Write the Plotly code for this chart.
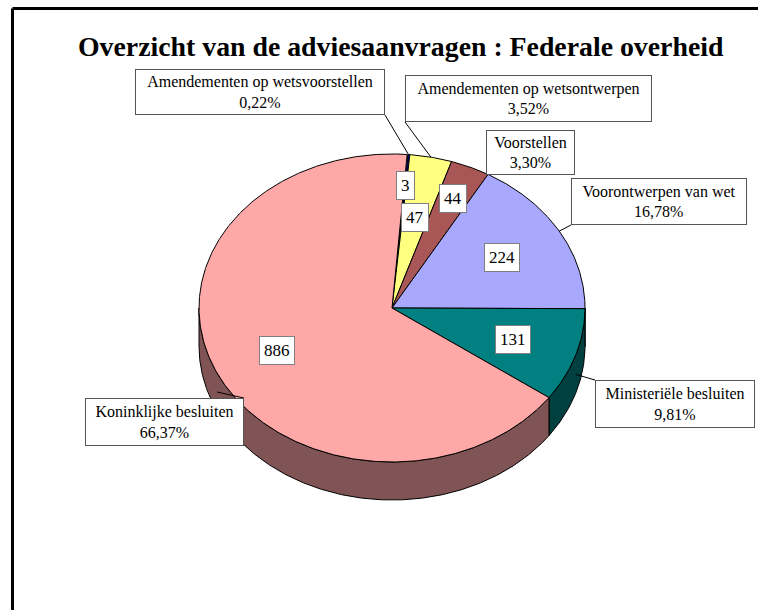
import math
import plotly.graph_objects as go

# ---- data ----
categories = [
    "Amendementen op wetsvoorstellen",
    "Amendementen op wetsontwerpen",
    "Voorstellen",
    "Voorontwerpen van wet",
    "Ministeriële besluiten",
    "Koninklijke besluiten",
]
values = [3, 47, 44, 224, 131, 886]
title_text = "Overzicht van de adviesaanvragen : Federale overheid"

# ---- style ----
top_colors = ["#000080", "#FFFF80", "#A85656", "#A8A8FF", "#008080", "#FFA8A8"]
side_colors = ["#000040", "#80803F", "#542B2B", "#545480", "#004040", "#805454"]
CX, CY, RA, RB, DEPTH = 392, 308, 193, 154, 38
ROTATION = 4.5
label_frac = [0.8, 0.6, 0.78, 0.66, 0.66, 0.66]
# callout boxes: (center x, center y, width, height)
boxes = [
    (260, 92, 250, 46),
    (528.5, 98.5, 247, 47),
    (530.5, 152.5, 89, 45),
    (659, 201.5, 176, 47),
    (675, 404, 160, 48),
    (164.5, 422, 159, 48),
]
show_leader = [True, True, False, True, True, True]
SERIF = "Liberation Serif, Times New Roman, serif"

total = sum(values)


def pt(theta_deg, frac=1.0, dy=0.0):
    t = math.radians(theta_deg)
    return CX + RA * frac * math.sin(t), CY - RB * frac * math.cos(t) + dy


fig = go.Figure()

bounds = []
acc = 0
for v in values:
    a0 = ROTATION + 360 * acc / total
    acc += v
    a1 = ROTATION + 360 * acc / total
    bounds.append((a0, a1))

# side walls (front half: 90..270 deg)
for (a0, a1), col in zip(bounds, side_colors):
    s0, s1 = max(a0, 90), min(a1, 270)
    if s1 <= s0:
        continue
    n = max(4, int((s1 - s0) * 2))
    xs, ys = [], []
    for i in range(n + 1):
        x, y = pt(s0 + (s1 - s0) * i / n)
        xs.append(x); ys.append(y)
    for i in range(n, -1, -1):
        x, y = pt(s0 + (s1 - s0) * i / n, dy=DEPTH)
        xs.append(x); ys.append(y)
    xs.append(xs[0]); ys.append(ys[0])
    fig.add_trace(go.Scatter(x=xs, y=ys, mode="lines", fill="toself",
                             fillcolor=col, line=dict(color="black", width=1),
                             hoverinfo="skip", showlegend=False))

# top faces
for (a0, a1), col, name, v in zip(bounds, top_colors, categories, values):
    n = max(4, int((a1 - a0) * 2))
    xs, ys = [CX], [CY]
    for i in range(n + 1):
        x, y = pt(a0 + (a1 - a0) * i / n)
        xs.append(x); ys.append(y)
    xs.append(CX); ys.append(CY)
    fig.add_trace(go.Scatter(x=xs, y=ys, mode="lines", fill="toself",
                             fillcolor=col, line=dict(color="black", width=1),
                             name=name, text=f"{name}: {v}", hoverinfo="text",
                             showlegend=False))

annotations = []
shapes = []

# value labels
for (a0, a1), v, f in zip(bounds, values, label_frac):
    x, y = pt((a0 + a1) / 2, frac=f)
    annotations.append(dict(x=x, y=y, xref="x", yref="y", text=str(v),
                            showarrow=False, bgcolor="white",
                            bordercolor="#808080", borderwidth=1, borderpad=4,
                            font=dict(family=SERIF, size=17, color="black")))

# callout labels + leader lines
for (a0, a1), name, v, box, lead in zip(bounds, categories, values, boxes, show_leader):
    pct = f"{100 * v / total:.2f}".replace(".", ",") + "%"
    bx, by, bw, bh = box
    pad = 3
    annotations.append(dict(x=bx, y=by, xref="x", yref="y",
                            text=f"{name}<br>{pct}", showarrow=False,
                            align="center", bgcolor="white",
                            bordercolor="#555555", borderwidth=1, borderpad=pad,
                            width=bw - 2 * pad - 2, height=bh - 2 * pad - 2,
                            font=dict(family=SERIF, size=16, color="black")))
    if lead:
        mid = (a0 + a1) / 2
        if 90 <= mid <= 270:
            tx, ty = pt(mid, dy=DEPTH / 2)
        else:
            tx, ty = pt(mid)
        corners = [(bx + sx * bw / 2, by + sy * bh / 2) for sx in (-1, 1) for sy in (-1, 1)]
        cx_, cy_ = min(corners, key=lambda c: (c[0] - tx) ** 2 + (c[1] - ty) ** 2)
        shapes.append(dict(type="line", xref="x", yref="y", x0=cx_, y0=cy_,
                           x1=tx, y1=ty, line=dict(color="black", width=1)))

# title
annotations.append(dict(x=401, y=46, xref="x", yref="y", text=f"<b>{title_text}</b>",
                        showarrow=False,
                        font=dict(family=SERIF, size=27.8, color="black")))

# frame
shapes.append(dict(type="line", xref="x", yref="y", x0=12.5, y0=8.5, x1=770, y1=8.5,
                   line=dict(color="black", width=3)))
shapes.append(dict(type="line", xref="x", yref="y", x0=12.5, y0=8.5, x1=12.5, y1=620,
                   line=dict(color="black", width=3)))

W, H = 758, 610
fig.update_layout(
    width=W, height=H,
    margin=dict(l=0, r=0, t=0, b=0),
    paper_bgcolor="white", plot_bgcolor="white",
    xaxis=dict(range=[0, W], visible=False, fixedrange=True),
    yaxis=dict(range=[H, 0], visible=False, fixedrange=True),
    annotations=annotations, shapes=shapes,
    showlegend=False,
)

fig.write_html(
    "out.html",
    config={"displayModeBar": False},
    post_script="document.body.style.margin='0';document.body.style.overflow='hidden';",
)
